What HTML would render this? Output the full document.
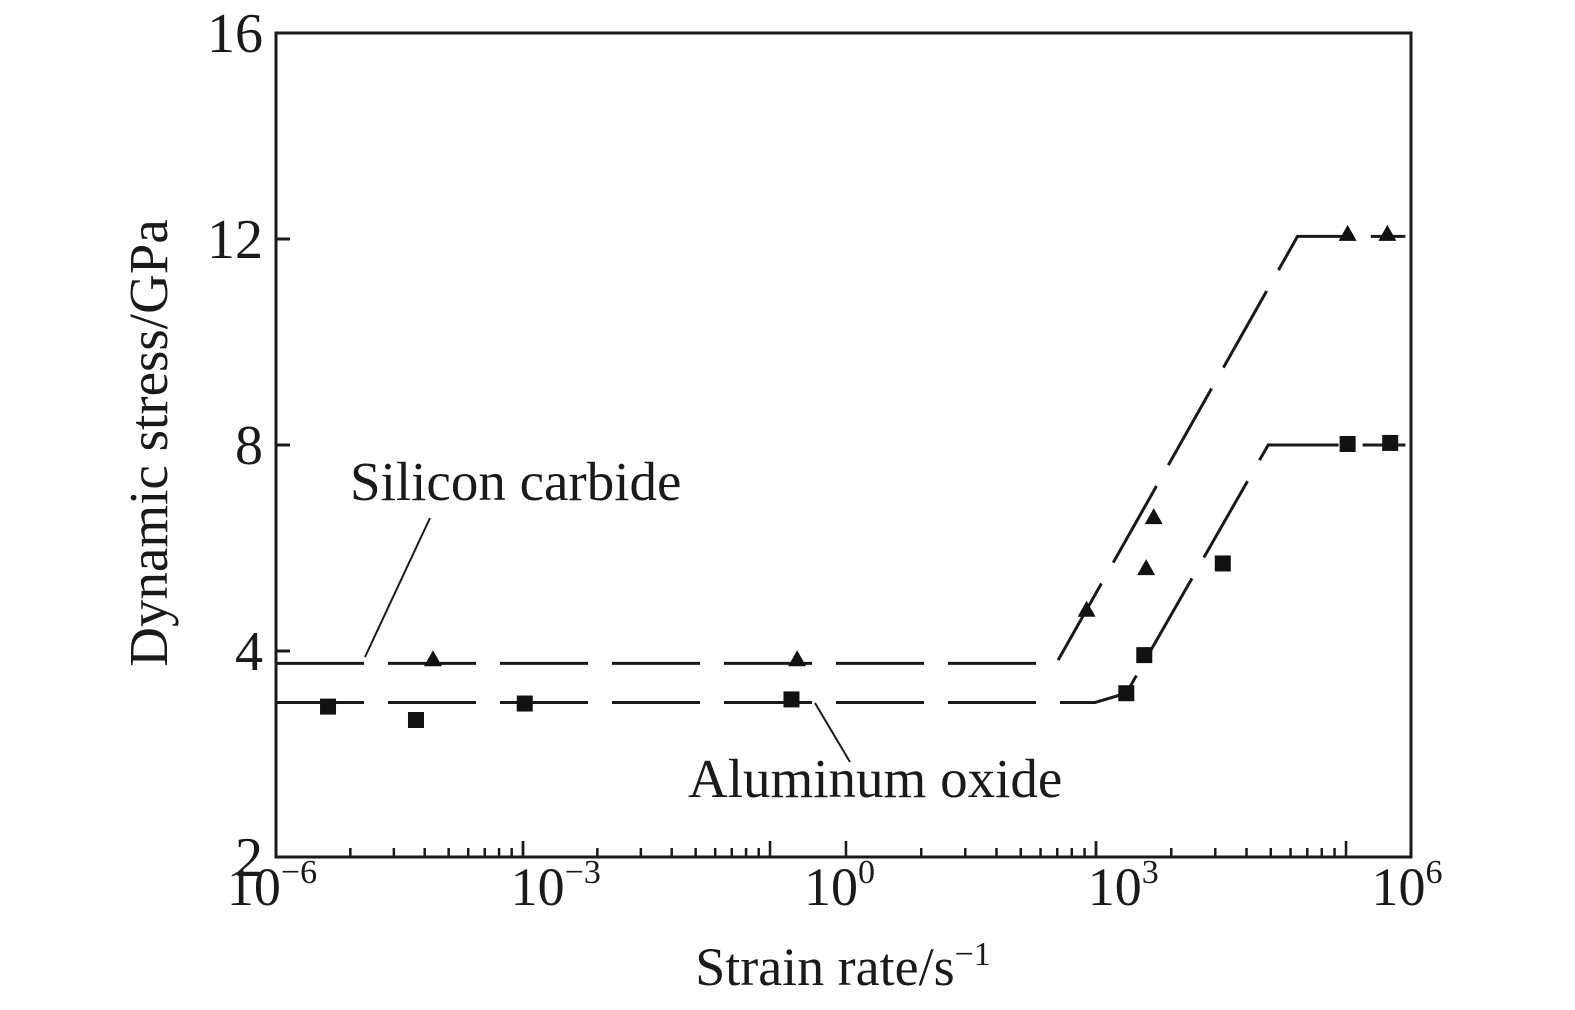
<!DOCTYPE html>
<html><head><meta charset="utf-8"><style>
body{margin:0;background:#fff}
svg text{font-family:"Liberation Serif",serif;fill:#1a1a1a}
</style></head><body>
<svg id="chart" width="1575" height="1005" viewBox="0 0 1575 1005" xmlns="http://www.w3.org/2000/svg">
<rect x="276" y="33" width="1135" height="824" fill="none" stroke="#1a1a1a" stroke-width="3"/>
<g id="axes"></g>
<g id="series"></g>
<line x1="365" y1="657" x2="430" y2="518" stroke="#1a1a1a" stroke-width="2"/>
<text x="350" y="500" font-size="55">Silicon carbide</text>
<line x1="815" y1="703" x2="850" y2="762" stroke="#1a1a1a" stroke-width="2"/>
<text x="688" y="797" font-size="55">Aluminum oxide</text>
<text transform="translate(167,443) rotate(-90)" text-anchor="middle" font-size="55">Dynamic stress/GPa</text>
<text x="843" y="985" text-anchor="middle" font-size="54">Strain rate/s<tspan dy="-20" font-size="34">−1</tspan></text>
</svg>
<script>
const yTicks=[2,4,8,12,16];
const xTickExps=[-6,-3,0,3,6];
const sicLogX=[-4.34,-0.49,2.57,3.2,3.28,5.33,5.75];
const sicY=[3.92,3.92,4.8,5.61,6.6,12.1,12.1];
const aloLogX=[-5.45,-4.52,-3.37,-0.55,2.99,3.18,4.01,5.33,5.78];
const aloY=[3.46,3.33,3.49,3.53,3.59,3.96,5.7,8.02,8.04];
const sicFitX=[-6,2.25,4.8,5.94];
const sicFitY=[3.88,3.88,12.05,12.05];
const aloFitX=[-6,2.66,2.99,4.49,5.94];
const aloFitY=[3.5,3.5,3.59,8.0,8.0];

const L=276,R=1411,T=33,B=857;
const NS='http://www.w3.org/2000/svg';
function xs(e){return L+(e+6)/12*(R-L);}
function ys(v){const n=yTicks.length-1;for(let i=0;i<n;i++){if(v<=yTicks[i+1]||i==n-1){const f=(v-yTicks[i])/(yTicks[i+1]-yTicks[i]);return B-(i+f)*(B-T)/n;}}}
function mk(tag,attrs,parent){const e=document.createElementNS(NS,tag);for(const k in attrs)e.setAttribute(k,attrs[k]);parent.appendChild(e);return e;}
const ax=document.getElementById('axes'),se=document.getElementById('series');
yTicks.forEach(v=>{const y=ys(v);
 if(v!==2&&v!==16){const t=mk('line',{x1:L,x2:L+14,y1:y,y2:y,stroke:'#1a1a1a','stroke-width':3},ax);
 
 }
 const tx=mk('text',{x:263,y:y+19,'text-anchor':'end','font-size':56},ax);tx.textContent=v;
 
 
});
xTickExps.forEach(e=>{const x=xs(e);
 const tx=mk('text',{x:x-4,y:905,'text-anchor':'middle','font-size':54},ax);
 tx.innerHTML='10<tspan dy="-22" font-size="34">'+(e<0?'−'+(-e):e)+'</tspan>';
 
 
});
[[276,523],[523,770],[846,1096],[1096,1346]].forEach(c=>{
 for(let k=1;k<=10;k++){const x=c[0]+(c[1]-c[0])*Math.log10(k);const len=(k==1||k==10)?16:9;
  if(x>=R-2)continue;
  const t=mk('line',{x1:x,x2:x,y1:B,y2:B-len,stroke:'#1a1a1a','stroke-width':2.5},ax);
  
  }
});
function fit(X,Y,name){const p=mk('polyline',{points:X.map((x,i)=>xs(x)+','+ys(Y[i])).join(' '),fill:'none',stroke:'#1a1a1a','stroke-width':3,'stroke-dasharray':'88 24'},se);
 
 }
fit(sicFitX,sicFitY,'silicon-carbide-fit-line');
fit(aloFitX,aloFitY,'aluminum-oxide-fit-line');
sicLogX.forEach((x,i)=>{const cx=xs(x),cy=ys(sicY[i]);
 const p=mk('polygon',{points:`${cx-9},${cy+7} ${cx+9},${cy+7} ${cx},${cy-9}`,fill:'#111'},se);
 
 });
aloLogX.forEach((x,i)=>{const cx=xs(x),cy=ys(aloY[i]);
 const p=mk('rect',{x:cx-8,y:cy-8,width:16,height:16,fill:'#111'},se);
 
 });
</script>
</body></html>
